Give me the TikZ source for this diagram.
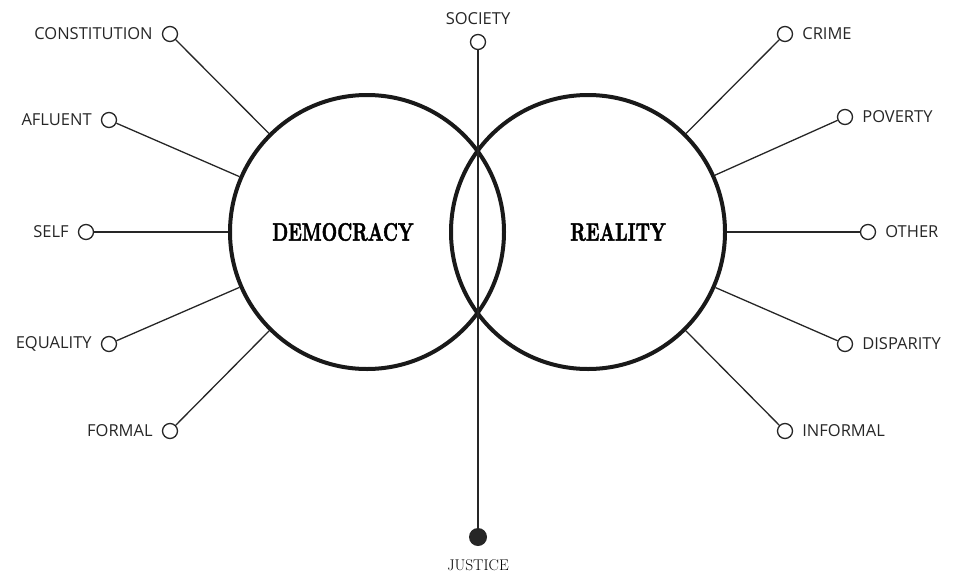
\documentclass[tikz,border=0pt]{standalone}
\usepackage{fontspec}
\setsansfont{Open Sans}
\newfontfamily\titlefont[FakeBold=2]{lmroman10-bold.otf}
\begin{document}
\begin{tikzpicture}[x=1pt, y=-1pt,
    big/.style={circle, draw=black!90, line width=4pt, minimum size=274pt, inner sep=0pt},
    small/.style={circle, draw=black!85, line width=1.3pt, fill=white, minimum size=15pt, inner sep=0pt},
    tag/.style={font=\sffamily\fontsize{16.5}{18}\selectfont, text=black!85, inner sep=0pt},
    title/.style={font=\titlefont\fontsize{21}{24}\selectfont, xscale=0.86, yscale=1.2},
    link/.style={draw=black!85, line width=1.3pt}]
        \useasboundingbox (0,0) rectangle (956,576);

        % Draw nodes
        \node[big] (dem) at (367,232) {};
        \node[big] (rea) at (588,232) {};
        \node[title] (tdem) at (343,232) {DEMOCRACY};
        \node[title] (trea) at (618,232) {REALITY};

        \node[small] (soc) at (478,42) {};
        \node[circle, fill=black!85, minimum size=18pt, inner sep=0pt] (jus) at (478,537) {};

        \node[small] (con) at (170,34) {};
        \node[small] (afl) at (109,120) {};
        \node[small] (sel) at (86,232) {};
        \node[small] (equ) at (109,344) {};
        \node[small] (for) at (170,431) {};

        \node[small] (cri) at (785,34) {};
        \node[small] (pov) at (845,117) {};
        \node[small] (oth) at (868,232) {};
        \node[small] (dis) at (845,344) {};
        \node[small] (inf) at (785,431) {};

        % Draw connections
        \draw[link] (soc) -- (jus);
        \draw[link] (con) -- (dem);
        \draw[link] (afl) -- (dem);
        \draw[link] (sel) -- (dem);
        \draw[link] (equ) -- (dem);
        \draw[link] (for) -- (dem);
        \draw[link] (cri) -- (rea);
        \draw[link] (pov) -- (rea);
        \draw[link] (oth) -- (rea);
        \draw[link] (dis) -- (rea);
        \draw[link] (inf) -- (rea);

        % Labels
        \node[tag, anchor=south] (tsoc) at (478,25) {SOCIETY};
        \node[font=\rmfamily\fontsize{15.5}{17}\selectfont, anchor=north, inner sep=0pt] (tjus) at (478,559) {JUSTICE};
        \node[tag, left=9pt] (tcon) at (con.west) {CONSTITUTION};
        \node[tag, left=9pt] (tafl) at (afl.west) {AFLUENT};
        \node[tag, left=9pt] (tsel) at (sel.west) {SELF};
        \node[tag, left=9pt] (tequ) at (equ.west) {EQUALITY};
        \node[tag, left=9pt] (tfor) at (for.west) {FORMAL};
        \node[tag, right=9pt] (tcri) at (cri.east) {CRIME};
        \node[tag, right=9pt] (tpov) at (pov.east) {POVERTY};
        \node[tag, right=9pt] (toth) at (oth.east) {OTHER};
        \node[tag, right=9pt] (tdis) at (dis.east) {DISPARITY};
        \node[tag, right=9pt] (tinf) at (inf.east) {INFORMAL};
    \end{tikzpicture}
\end{document}
